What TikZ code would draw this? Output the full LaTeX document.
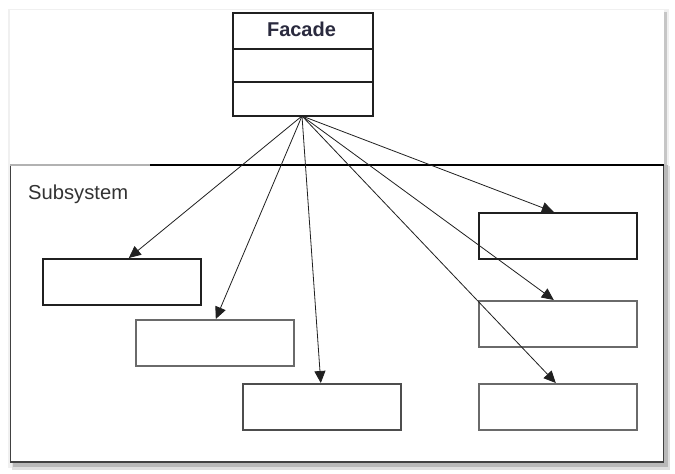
\documentclass[tikz,border=0pt]{standalone}
\usepackage{fontspec}
\setmainfont{Liberation Sans}
\usetikzlibrary{arrows.meta,calc}
\definecolor{boxgray}{HTML}{6A6A6A}
\definecolor{boxdark}{HTML}{202020}
\definecolor{navy}{HTML}{2A2A3E}
\tikzset{
  sub/.style={draw=#1, line width=1.6pt, fill=white, rectangle, inner sep=0pt,
              minimum width=158pt, minimum height=46pt, anchor=north west},
  assoc/.style={-{Triangle[length=12pt,width=11pt]}, line width=0.8pt, draw=boxdark},
}
\begin{document}
\begin{tikzpicture}[x=1pt,y=-1pt]
\useasboundingbox (0,0) rectangle (675,474);
\fill[white] (0,0) rectangle (675,474);
% page shadow
\fill[gray!12] (8,9) rectangle (669,468);
\fill[gray!45] (12,12) rectangle (667,465);
\fill[white] (10,10) rectangle (664,462);
% subsystem frame
\fill[gray!25] (12,166) rectangle (670,470);
\fill[gray!55] (13,165) rectangle (668,467);
\fill[white] (10,165) rectangle (664,462);
\draw[line width=1.6pt, draw=boxdark!85] (10.5,165) -- (10.5,462) -- (663.5,462) -- (663.5,165);
\draw[line width=1.4pt, draw=gray!60] (10,165) -- (150,165);
\draw[line width=1.4pt, draw=black] (150,165) -- (664,165);
\node[anchor=base west, inner sep=0pt, text=black!80, font=\fontsize{20.2}{22}\selectfont] (lbl) at (28,199) {Subsystem};
% Facade class
\node[draw=boxdark, line width=1.6pt, fill=white, rectangle, inner sep=0pt,
      minimum width=140pt, minimum height=103pt, anchor=north west] (fac) at (232,12) {};
\draw[line width=1.6pt, draw=boxdark] (232,49) -- (372,49);
\draw[line width=1.6pt, draw=boxdark] (232,82) -- (372,82);
\node[font=\fontsize{20}{22}\selectfont\bfseries, text=navy] (facname) at (301.5,29.5) {Facade};
% subsystem classes
\node[sub=boxdark] (b1) at (42,258) {};
\node[sub=boxgray] (b2) at (135,319) {};
\node[sub=boxdark!80] (b3) at (242,383) {};
\node[sub=boxdark] (b4) at (478,212) {};
\node[sub=boxgray] (b5) at (478,300) {};
\node[sub=boxgray] (b6) at (478,383) {};
\coordinate (o) at (302,116);
\draw[assoc] (o) -- ([xshift=7pt]b1.north);
\draw[assoc] (o) -- ([xshift=1pt]b2.north);
\draw[assoc] (o) -- ([xshift=-1pt]b3.north);
\draw[assoc] (o) -- ([xshift=-4pt]b4.north);
\draw[assoc] (o) -- ([xshift=-4pt]b5.north);
\draw[assoc] (o) -- ([xshift=-2pt]b6.north);
\end{tikzpicture}
\end{document}
